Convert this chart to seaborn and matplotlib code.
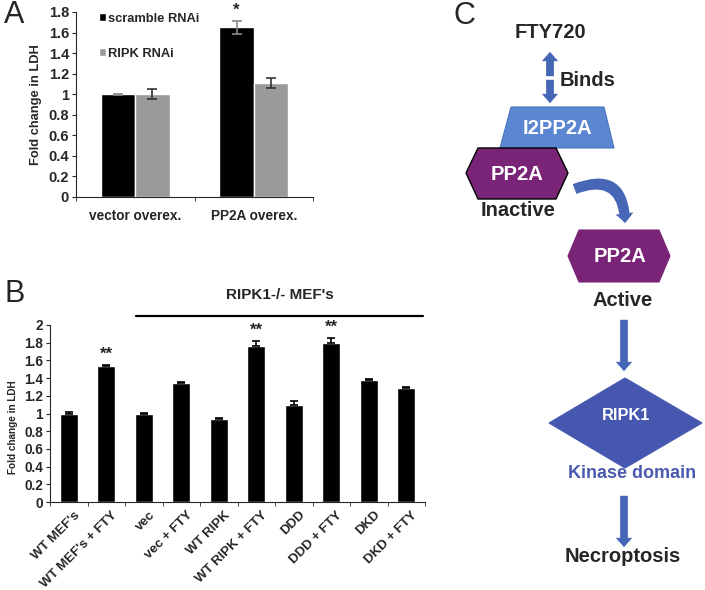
import numpy as np
import pandas as pd
import seaborn as sns
import matplotlib.pyplot as plt
from matplotlib.patches import Polygon, FancyArrowPatch, Patch
from matplotlib.transforms import ScaledTranslation

# Datos panel A
a_conditions = ["vector overex.", "PP2A overex."]
a_series = ["scramble RNAi", "RIPK RNAi"]
a_scramble = [1.0, 1.65]
a_scramble_err = [0.005, 0.06]
a_ripk = [1.0, 1.11]
a_ripk_err = [0.05, 0.05]

# Datos panel B
b_labels = ["WT MEF's", "WT MEF's + FTY", "vec", "vec + FTY", "WT RIPK",
            "WT RIPK + FTY", "DDD", "DDD + FTY", "DKD", "DKD + FTY"]
b_values = [1.0, 1.54, 1.0, 1.35, 0.94, 1.76, 1.10, 1.80, 1.38, 1.29]
b_err = [0.015, 0.01, 0.01, 0.005, 0.01, 0.06, 0.045, 0.05, 0.01, 0.005]
b_stars = ["", "**", "", "", "", "**", "", "**", "", ""]

sns.set_style("ticks")
plt.rcParams['font.family'] = ['Liberation Sans', 'DejaVu Sans']

W, H = 705, 590
fig = plt.figure(figsize=(W / 100, H / 100), dpi=100)

# capa de pixeles para el esquema C y las letras
axC = fig.add_axes([0, 0, 1, 1])
axC.set_xlim(0, W)
axC.set_ylim(H, 0)
axC.axis('off')

axA = fig.add_axes([76 / W, 1 - 197 / H, 237 / W, 185 / H])
axB = fig.add_axes([50 / W, 1 - 502 / H, 375 / W, 177 / H])

# ---------------- Panel A ----------------
df_a = pd.DataFrame({
    "condition": a_conditions * 2,
    "fold": a_scramble + a_ripk,
    "rnai": [a_series[0]] * 2 + [a_series[1]] * 2,
})
sns.barplot(data=df_a, x="condition", y="fold", hue="rnai", order=a_conditions,
            hue_order=a_series, palette=["black", "#9a9a9a"], width=0.58,
            saturation=1, errorbar=None, legend=False, ax=axA)
for cont, err, ecol in zip(axA.containers, [a_scramble_err, a_ripk_err], ["#8a8a8a", "#333333"]):
    xs = [b.get_x() + b.get_width() / 2 for b in cont]
    ys = [b.get_height() for b in cont]
    axA.errorbar(xs, ys, yerr=err, fmt='none', ecolor=ecol, elinewidth=1.2, capsize=3.5, capthick=1.2)
top_bar = axA.containers[0][1]
axA.text(top_bar.get_x() + top_bar.get_width() / 2, a_scramble[1] + a_scramble_err[1] + 0.03, "*",
         ha='center', va='bottom', fontsize=12, fontweight='bold', clip_on=False)

axA.set_xlim(-0.5, 1.5)
axA.set_ylim(0, 1.8)
axA.set_yticks(np.arange(0, 1.81, 0.2))
axA.set_yticklabels(["0", "0.2", "0.4", "0.6", "0.8", "1", "1.2", "1.4", "1.6", "1.8"])
axA.set_xticks([-0.5, 0.5, 1.5], minor=True)
axA.tick_params(axis='x', which='major', length=0, pad=9, labelsize=9.8)
axA.tick_params(axis='x', which='minor', length=3, direction='out')
axA.tick_params(axis='y', length=3, direction='out', labelsize=10.5, pad=2)
for lab in axA.get_xticklabels() + axA.get_yticklabels():
    lab.set_fontweight('bold')
axA.set_xlabel("")
axA.set_ylabel("Fold change in LDH", fontsize=9.3, fontweight='bold')
axA.yaxis.set_label_coords(-0.143, 0.5)
sns.despine(ax=axA)
handles = [Patch(facecolor="black"), Patch(facecolor="#9a9a9a")]
axA.legend(handles, a_series, loc='upper left', bbox_to_anchor=(0.095, 0.995), frameon=False,
           handlelength=0.55, handleheight=0.6, handletextpad=0.15, labelspacing=1.75,
           borderpad=0, borderaxespad=0, prop=dict(weight='bold', size=9.3))

# ---------------- Panel B ----------------
df_b = pd.DataFrame({"label": b_labels, "fold": b_values})
sns.barplot(data=df_b, x="label", y="fold", color="black", saturation=1, width=0.48,
            errorbar=None, ax=axB)
bars = axB.containers[0]
bx = [b.get_x() + b.get_width() / 2 for b in bars]
axB.errorbar(bx, b_values, yerr=[[0] * len(b_err), b_err], fmt='none', ecolor='black',
             elinewidth=1.2, capsize=3, capthick=1.2)
for x, v, e, s in zip(bx, b_values, b_err, b_stars):
    if s:
        axB.text(x, v + e + 0.04, s, ha='center', va='bottom', fontsize=12, fontweight='bold', clip_on=False)

axB.set_xlim(-0.5, len(b_labels) - 0.5)
axB.set_ylim(0, 2)
axB.set_yticks(np.arange(0, 2.01, 0.2))
axB.set_yticklabels(["0", "0.2", "0.4", "0.6", "0.8", "1", "1.2", "1.4", "1.6", "1.8", "2"])
axB.set_xticks(np.arange(-0.5, len(b_labels)), minor=True)
axB.tick_params(axis='x', which='major', length=0, pad=5, labelsize=9.5)
axB.tick_params(axis='x', which='minor', length=3, direction='out')
axB.tick_params(axis='y', length=3, direction='out', labelsize=9.8, pad=2)
shift = ScaledTranslation(5 / 100, 0, fig.dpi_scale_trans)
for lab in axB.get_xticklabels():
    lab.set_rotation(45)
    lab.set_ha('right')
    lab.set_va('top')
    lab.set_rotation_mode('anchor')
    lab.set_transform(lab.get_transform() + shift)
for lab in axB.get_xticklabels() + axB.get_yticklabels():
    lab.set_fontweight('bold')
axB.set_xlabel("")
axB.set_ylabel("Fold change in LDH", fontsize=7.2, fontweight='bold')
axB.yaxis.set_label_coords(-0.085, 0.42)
sns.despine(ax=axB)
axB.plot([1.79, 9.45], [2.10, 2.10], color='black', lw=1.6, clip_on=False)
axB.text((1.79 + 9.45) / 2, 2.34, "RIPK1-/- MEF's", ha='center', va='center',
         fontsize=11, fontweight='bold', clip_on=False)

# letras de panel
axC.text(14, 15, "A", ha='center', va='center', fontsize=22)
axC.text(15, 294, "B", ha='center', va='center', fontsize=22)
axC.text(464, 16, "C", ha='center', va='center', fontsize=22)

# ---------------- Panel C (esquema) ----------------
arrow_blue = "#4767b6"


def down_arrow(x, y0, y1):
    axC.add_patch(FancyArrowPatch((x, y0), (x, y1), arrowstyle="simple,head_length=0.75,head_width=1.3,tail_width=0.62",
                                  mutation_scale=9, color=arrow_blue, lw=0))


# doble flecha FTY720 <-> I2PP2A
down_arrow(550, 77, 106)
down_arrow(550, 79, 49)

axC.text(550, 32, "FTY720", ha='center', va='center', fontsize=14.5, fontweight='bold')
axC.text(560, 80, "Binds", ha='left', va='center', fontsize=14.5, fontweight='bold')

axC.add_patch(Polygon([(511, 107), (604, 107), (614, 148), (500, 148)], closed=True,
                      facecolor="#5a86d2", edgecolor="#4b73be", lw=0.8))
axC.text(557, 129, "I2PP2A", ha='center', va='center', fontsize=14.5, fontweight='bold', color='white')

axC.add_patch(Polygon([(466, 173), (478, 148), (556, 148), (568, 173), (556, 199), (478, 199)], closed=True,
                      facecolor="#7a2477", edgecolor="black", lw=1.0))
axC.text(517, 174, "PP2A", ha='center', va='center', fontsize=14.5, fontweight='bold', color='white')
axC.text(518, 211, "Inactive", ha='center', va='center', fontsize=14.5, fontweight='bold')

axC.add_patch(FancyArrowPatch((572, 190), (625, 226), connectionstyle="arc3,rad=-0.75",
                              arrowstyle="simple,head_length=0.7,head_width=1.3,tail_width=0.75",
                              mutation_scale=10, color=arrow_blue, lw=0))

axC.add_patch(Polygon([(568, 256), (579, 230), (659, 230), (670, 256), (659, 282), (579, 282)], closed=True,
                      facecolor="#7a2477", edgecolor="#7a2477", lw=0.8))
axC.text(620, 257, "PP2A", ha='center', va='center', fontsize=14.5, fontweight='bold', color='white')
axC.text(623, 300, "Active", ha='center', va='center', fontsize=14.5, fontweight='bold')

down_arrow(624, 317, 374)

axC.add_patch(Polygon([(549, 423), (625, 378), (702, 423), (625, 468)], closed=True,
                      facecolor="#4657b0", edgecolor="#4657b0", lw=0.8))
axC.text(626, 416, "RIPK1", ha='center', va='center', fontsize=11.8, fontweight='bold', color='white')
axC.text(632, 473, "Kinase domain", ha='center', va='center', fontsize=13, fontweight='bold', color='#4a5aae')

down_arrow(624, 493, 550)
axC.text(623, 557, "Necroptosis", ha='center', va='center', fontsize=14.5, fontweight='bold')

fig.savefig("out.png", dpi=100)
